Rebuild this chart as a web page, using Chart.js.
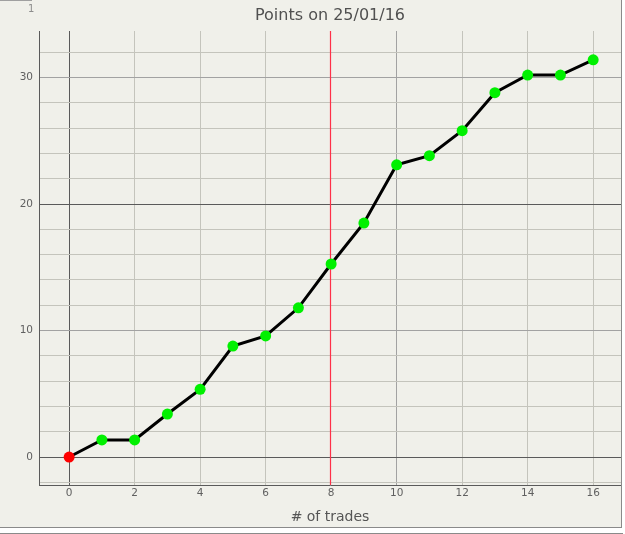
<!DOCTYPE html>
<html lang="en">
  <head>
    <meta charset="UTF-8" />
    <title>Points on 25/01/16</title>
    <style>
      body { margin: 0; background: #ffffff; width: 625px; height: 534px; overflow: hidden; position: relative; }
      #frame {
        position: absolute; left: 0; top: 0; width: 621px; height: 527px;
        background: #f0f0ea; border-right: 1px solid #8a8a8a; border-bottom: 1px solid #8a8a8a;
      }
      #tabline { position: absolute; left: 0; top: 0; width: 32px; height: 1px; background: #a0a0a0; }
      #pagenum { position: absolute; left: 28px; top: 3px; font: 10px "DejaVu Sans", sans-serif; color: #8c8c8c; }
      #bottomline { position: absolute; left: 0; top: 533px; width: 623px; height: 1px; background: #8a8a8a; }
    </style>
  </head>
  <body>
    <div id="frame">
      <canvas id="chart" width="621" height="527"></canvas>
    </div>
    <div id="tabline"></div>
    <span id="pagenum">1</span>
    <div id="bottomline"></div>

    <script src="https://cdn.jsdelivr.net/npm/chart.js"></script>
    <script>
      // trade number and cumulative points
      const trades = [0, 1, 2, 3, 4, 5, 6, 7, 8, 9, 10, 11, 12, 13, 14, 15, 16];
      const points = [0, 1.35, 1.35, 3.4, 5.35, 8.77, 9.57, 11.8, 15.26, 18.5, 23.1, 23.82, 25.8, 28.8, 30.2, 30.2, 31.4];
      const yLabels = [0, 10, 20, 30];
      const markerLine = 8;

      const dark = "#5a5a5a";
      const mid = "#a2a2a2";
      const light = "#c4c4bc";
      const red = "#ff3048";

      const pointColors = trades.map((t, i) => (i === 0 ? "#ff0000" : "#00f000"));

      function tickVal(ctx) {
        return ctx.tick ? Math.round(ctx.tick.value * 1000) / 1000 : null;
      }

      // vertical red marker at trade 8, drawn under the line
      const markerPlugin = {
        id: "marker",
        beforeDatasetsDraw(chart) {
          const x = chart.scales.x.getPixelForValue(markerLine);
          const area = chart.chartArea;
          const c = chart.ctx;
          c.save();
          c.strokeStyle = red;
          c.lineWidth = 1.2;
          c.beginPath();
          c.moveTo(Math.round(x) - 0.5, area.top);
          c.lineTo(Math.round(x) - 0.5, area.bottom);
          c.stroke();
          c.restore();
        },
      };

      new Chart(document.getElementById("chart").getContext("2d"), {
        type: "line",
        data: {
          datasets: [
            {
              data: trades.map((t, i) => ({ x: t, y: points[i] })),
              borderColor: "#000000",
              borderWidth: 3,
              tension: 0,
              pointRadius: 5.5,
              pointBorderWidth: 0,
              pointBackgroundColor: pointColors,
            },
          ],
        },
        plugins: [markerPlugin],
        options: {
          responsive: false,
          animation: false,
          layout: { padding: 0, autoPadding: false },
          plugins: {
            legend: { display: false },
            tooltip: { enabled: false },
            title: {
              display: true,
              fullSize: false,
              text: "Points on 25/01/16",
              color: "#505050",
              font: { family: "DejaVu Sans", size: 16, weight: "normal", lineHeight: 1.2 },
              padding: { top: 6, bottom: 5.8 },
            },
          },
          scales: {
            x: {
              type: "linear",
              min: -0.92,
              max: 16.85,
              afterFit: (scale) => {
                scale.height = 42;
                scale.paddingLeft = 0;
                scale.paddingRight = 0;
              },
              ticks: {
                stepSize: 2,
                includeBounds: false,
                autoSkip: false,
                maxRotation: 0,
                padding: 1.5,
                color: "#606060",
                font: { family: "DejaVu Sans", size: 10.5, lineHeight: 1.2 },
              },
              grid: {
                drawTicks: false,
                color: (ctx) => {
                  const v = tickVal(ctx);
                  if (v === 0) return dark;
                  if (v === markerLine) return "rgba(0,0,0,0)";
                  if (v === 10) return mid;
                  return light;
                },
              },
              border: { display: true, color: dark, width: 1 },
              title: {
                display: true,
                text: "# of trades",
                color: "#555555",
                font: { family: "DejaVu Sans", size: 14, lineHeight: 1.2 },
                padding: { top: 0, bottom: 1.6 },
              },
            },
            y: {
              min: -2.21,
              max: 33.68,
              afterFit: (scale) => {
                scale.width = 39;
                scale.paddingTop = 0;
                scale.paddingBottom = 0;
              },
              ticks: {
                stepSize: 2,
                includeBounds: false,
                autoSkip: false,
                padding: 6,
                color: "#606060",
                font: { family: "DejaVu Sans", size: 10.5, lineHeight: 1.2 },
                callback: (value) => (yLabels.includes(Math.round(value)) && Math.abs(value - Math.round(value)) < 1e-6 ? Math.round(value) : ""),
              },
              grid: {
                drawTicks: false,
                color: (ctx) => {
                  const v = tickVal(ctx);
                  if (v === 0 || v === 20) return dark;
                  if (v === 10 || v === 30) return mid;
                  return light;
                },
              },
              border: { display: true, color: dark, width: 1 },
            },
          },
        },
      });
    </script>
  </body>
</html>
